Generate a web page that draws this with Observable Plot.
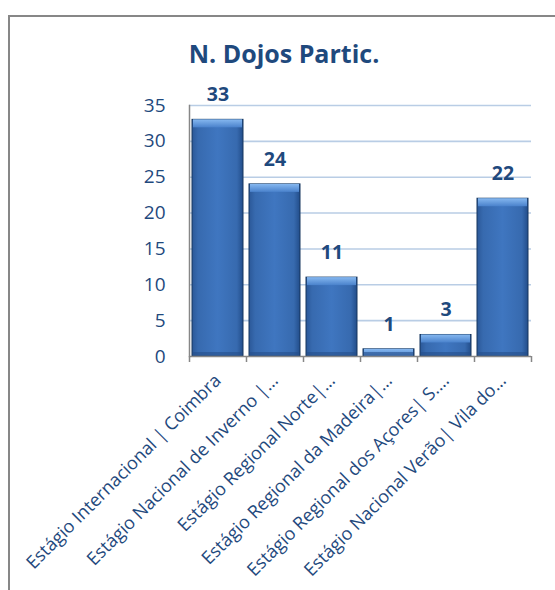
<!DOCTYPE html>
<html>
<head>
<meta charset="utf-8">
<script src="https://cdn.jsdelivr.net/npm/d3@7"></script>
<script src="https://cdn.jsdelivr.net/npm/@observablehq/plot@0.6"></script>
<style>
  html, body { margin: 0; padding: 0; background: #ffffff; }
  #wrap { position: relative; width: 555px; height: 590px; overflow: hidden; }
  #frame { position: absolute; left: 8px; top: 15px; width: 600px; height: 640px;
           border-left: 2px solid #878787; border-top: 2px solid #878787; box-sizing: border-box; }
  #title { position: absolute; left: 284px; top: 41px; transform: translateX(-50%);
           font-family: 'Open Sans', sans-serif; font-weight: bold; font-size: 25px; line-height: 1;
           color: #1f497d; white-space: nowrap; }
  #chart { position: absolute; left: 0; top: 0; }
</style>
</head>
<body>
<div id="wrap">
  <div id="frame"></div>
  <div id="chart"></div>
  <div id="title">N. Dojos Partic.</div>
</div>
<script>
const categories = [
  "Estágio Internacional | Coimbra",
  "Estágio Nacional de Inverno |…",
  "Estágio Regional Norte|…",
  "Estágio Regional da Madeira|…",
  "Estágio Regional dos Açores| S.…",
  "Estágio Nacional Verão| Vila do…"
];
const values = [33, 24, 11, 1, 3, 22];
const yTicks = [0, 5, 10, 15, 20, 25, 30, 35];

const data = categories.map((c, i) => ({cat: c, val: values[i]}));

const W = 555, H = 590, mL = 189, mR = 24, mT = 105, mB = 234;
const step = (W - mL - mR) / categories.length;

const chart = Plot.plot({
  width: W, height: H,
  marginTop: mT, marginRight: mR, marginBottom: mB, marginLeft: mL,
  x: {domain: categories, paddingInner: 0.105, paddingOuter: 0.0525, label: null},
  y: {domain: [0, 35], label: null},
  style: {fontFamily: "'Open Sans', sans-serif", fontSize: "18px", color: "#1f497d", background: "transparent", overflow: "visible"},
  marks: [
    Plot.gridY(yTicks.filter(d => d > 0), {stroke: "#b9cde5", strokeOpacity: 1, strokeWidth: 1.6}),
    Plot.axisY({ticks: yTicks, tickSize: 0, tickPadding: 24, fontSize: 19, fill: "#1f497d", label: null}),
    Plot.axisX({tickSize: 0, tickRotate: -45, tickPadding: 21, fontSize: 18, fill: "#1f497d", label: null}),
    Plot.barY(data, {x: "cat", y: "val", fill: "url(#barGrad)", stroke: "#17375e", strokeWidth: 1}),
    Plot.barY(data, {x: "cat", y1: "val", y2: "val", insetBottom: -8, insetLeft: 1, insetRight: 1, fill: "url(#bevelGrad)"}),
    Plot.barY(data, {x: "cat", y1: 0, y2: 0, insetTop: -4, insetLeft: 1, insetRight: 1, fill: "#244f8a", fillOpacity: 0.6}),
    Plot.frame({anchor: "left", stroke: "#878787", strokeWidth: 1.5}),
    Plot.ruleY([0], {stroke: "#878787", strokeWidth: 1.5}),
    Plot.ruleX(categories, {x: d => d, y1: 0, y2: 0, insetBottom: -6, dx: -step / 2, stroke: "#878787", strokeWidth: 1.5}),
    Plot.ruleX(categories.slice(-1), {x: d => d, y1: 0, y2: 0, insetBottom: -6, dx: step / 2, stroke: "#878787", strokeWidth: 1.5}),
    Plot.text(data, {x: "cat", y: "val", text: d => String(d.val), dy: -25, fontWeight: "bold", fontSize: 19.5, fill: "#1f497d"})
  ]
});

const defs = d3.select(chart).insert("defs", ":first-child");
const g1 = defs.append("linearGradient").attr("id", "barGrad").attr("x1", "0").attr("x2", "1").attr("y1", "0").attr("y2", "0");
[["0%", "#2b5898"], ["12%", "#376aaf"], ["50%", "#3f76c0"], ["88%", "#376aaf"], ["100%", "#224d8a"]]
  .forEach(([o, c]) => g1.append("stop").attr("offset", o).attr("stop-color", c));
const g2 = defs.append("linearGradient").attr("id", "bevelGrad").attr("x1", "0").attr("x2", "0").attr("y1", "0").attr("y2", "1");
[["0%", "#86b8f0"], ["100%", "#4a82cc"]]
  .forEach(([o, c]) => g2.append("stop").attr("offset", o).attr("stop-color", c));

document.getElementById("chart").appendChild(chart);
</script>
</body>
</html>
